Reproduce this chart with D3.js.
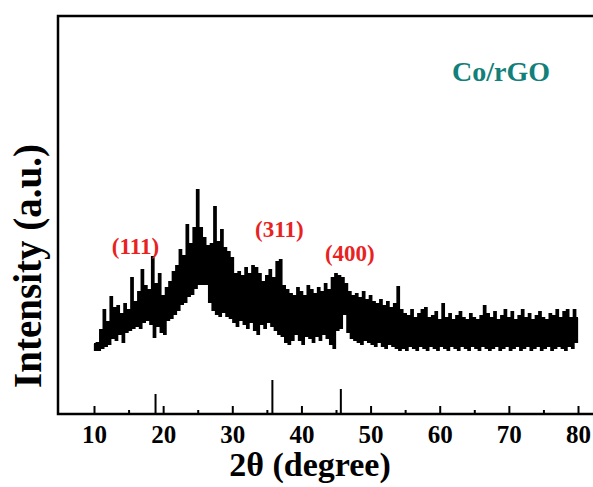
<!DOCTYPE html>
<html>
<head>
<meta charset="utf-8">
<script src="https://cdn.jsdelivr.net/npm/d3@7"></script>
<style>
  body { margin: 0; background: #fff; }
  text { font-family: "Liberation Serif", "Times New Roman", serif; font-weight: bold; }
</style>
</head>
<body>
<div id="chart"></div>
<script>
// XRD pattern of Co/rGO, 2theta from 10 to 80 in 0.25 degree steps
let thetaStart = 10;
let thetaStep = 0.25;
let intensity = [
  70, 64, 71, 64,     // 10
  84, 66, 104, 68,    // 11
  92, 70, 117, 76,    // 12
  106, 74, 108, 80,   // 13
  100, 72, 110, 82,   // 14
  104, 84, 136, 86,   // 15
  112, 88, 122, 86,   // 16
  144, 92, 128, 94,   // 17
  124, 90, 157, 77,   // 18
  130, 88, 140, 82,   // 19
  118, 80, 126, 94,   // 20
  132, 96, 142, 100,  // 21
  148, 104, 164, 110, // 22
  158, 112, 189, 118, // 23
  170, 120, 186, 126, // 24
  224, 130, 186, 130, // 25
  176, 130, 168, 112, // 26
  170, 104, 207, 100, // 27
  172, 98, 184, 102,  // 28
  166, 98, 162, 96,   // 29
  156, 92, 140, 88,   // 30
  142, 94, 138, 90,   // 31
  146, 86, 140, 92,   // 32
  148, 84, 146, 80,   // 33
  140, 90, 132, 86,   // 34
  138, 92, 144, 88,   // 35
  136, 84, 152, 80,   // 36
  154, 78, 128, 72,   // 37
  124, 70, 120, 74,   // 38
  118, 80, 126, 74,   // 39
  122, 70, 118, 78,   // 40
  128, 76, 124, 72,   // 41
  120, 78, 126, 74,   // 42
  122, 80, 130, 76,   // 43
  124, 70, 136, 66,   // 44
  140, 84, 138, 86,   // 45
  136, 100, 130, 82,  // 46
  122, 76, 118, 74,   // 47
  120, 72, 116, 70,   // 48
  122, 74, 114, 72,   // 49
  118, 70, 112, 68,   // 50
  110, 72, 114, 68,   // 51
  108, 66, 112, 70,   // 52
  106, 68, 110, 66,   // 53
  127, 64, 104, 66,   // 54
  100, 64, 98, 68,    // 55
  104, 66, 96, 64,    // 56
  100, 68, 104, 66,   // 57
  106, 64, 96, 68,    // 58
  98, 66, 102, 64,    // 59
  94, 68, 110, 66,    // 60
  96, 64, 100, 68,    // 61
  94, 66, 98, 64,     // 62
  102, 68, 96, 66,    // 63
  94, 64, 100, 68,    // 64
  96, 66, 94, 64,     // 65
  98, 68, 108, 66,    // 66
  100, 64, 96, 66,    // 67
  102, 68, 94, 64,    // 68
  98, 66, 104, 68,    // 69
  96, 64, 102, 66,    // 70
  94, 68, 98, 64,     // 71
  104, 66, 96, 68,    // 72
  100, 64, 94, 66,    // 73
  98, 68, 102, 64,    // 74
  96, 66, 94, 68,     // 75
  100, 64, 98, 66,    // 76
  104, 68, 96, 66,    // 77
  102, 64, 104, 68,   // 78
  96, 66, 104, 72,    // 79
  96                  // 80
];

// standard reference lines (stick pattern) under the curve
let refPositions = [18.9, 35.8, 45.7];
let refHeights = [20, 34, 25];

let peakLabels = ["(111)", "(311)", "(400)"];
let peakLabelPos = [16.0, 36.8, 47.0];
let peakLabelHeight = [160, 177, 153];

let majorTicks = [10, 20, 30, 40, 50, 60, 70, 80];
let minorTicks = [15, 25, 35, 45, 55, 65, 75];

let svgWidth = 593;
let svgHeight = 487;

let frame = { left: 58, top: 16, right: 600, bottom: 414 };

let svg = d3.select("#chart")
  .append("svg")
  .attr("width", svgWidth)
  .attr("height", svgHeight);

let x = d3.scaleLinear()
  .domain([10, 80])
  .range([94, 578]);

let y = d3.scaleLinear()
  .domain([0, 398])
  .range([frame.bottom, frame.top]);

let data = intensity.map((v, i) => ({ t: thetaStart + i * thetaStep, v: v }));

// XRD curve
let line = d3.line()
  .x(d => x(d.t))
  .y(d => y(d.v))
  .curve(d3.curveStep);

svg.append("path")
  .datum(data)
  .attr("fill", "none")
  .attr("stroke", "#000")
  .attr("stroke-width", 2)
  .attr("d", line);

// reference sticks
svg.selectAll(".ref")
  .data(refPositions)
  .enter()
  .append("line")
  .attr("class", "ref")
  .attr("x1", d => x(d))
  .attr("x2", d => x(d))
  .attr("y1", y(0))
  .attr("y2", (d, i) => y(refHeights[i]))
  .attr("stroke", "#000")
  .attr("stroke-width", 2);

// axes: ticks point inward
let xAxis = d3.axisBottom(x)
  .tickValues(majorTicks)
  .tickSizeInner(-8)
  .tickSizeOuter(0)
  .tickPadding(11)
  .tickFormat(d3.format("d"));

let gx = svg.append("g")
  .attr("transform", `translate(0, ${frame.bottom})`)
  .call(xAxis);
gx.select(".domain").remove();
gx.selectAll(".tick line").attr("stroke-width", 2);
gx.selectAll(".tick text")
  .attr("font-size", 25)
  .attr("font-family", "Liberation Serif")
  .attr("font-weight", "bold")
  .attr("fill", "#000");

let xMinor = d3.axisBottom(x)
  .tickValues(minorTicks)
  .tickSizeInner(-4)
  .tickSizeOuter(0)
  .tickFormat("");

let gm = svg.append("g")
  .attr("transform", `translate(0, ${frame.bottom})`)
  .call(xMinor);
gm.select(".domain").remove();
gm.selectAll(".tick line").attr("stroke-width", 2);

// frame (left, top, bottom)
svg.append("path")
  .attr("d", `M${frame.right},${frame.top} H${frame.left} V${frame.bottom} H${frame.right}`)
  .attr("fill", "none")
  .attr("stroke", "#000")
  .attr("stroke-width", 2.5);

// peak labels
svg.selectAll(".peak")
  .data(peakLabels)
  .enter()
  .append("text")
  .attr("class", "peak")
  .attr("x", (d, i) => x(peakLabelPos[i]))
  .attr("y", (d, i) => y(peakLabelHeight[i]))
  .attr("text-anchor", "middle")
  .attr("font-size", 23)
  .attr("fill", "#e8231f")
  .text(d => d);

// sample label
svg.append("text")
  .attr("x", 501)
  .attr("y", 81)
  .attr("text-anchor", "middle")
  .attr("font-size", 28)
  .attr("fill", "#11807a")
  .text("Co/rGO");

// axis titles
svg.append("text")
  .attr("x", 310)
  .attr("y", 476)
  .attr("text-anchor", "middle")
  .attr("font-size", 34)
  .text("2θ (degree)");

svg.append("text")
  .attr("transform", "rotate(-90)")
  .attr("x", -266)
  .attr("y", 41)
  .attr("text-anchor", "middle")
  .attr("font-size", 39)
  .text("Intensity (a.u.)");
</script>
</body>
</html>
